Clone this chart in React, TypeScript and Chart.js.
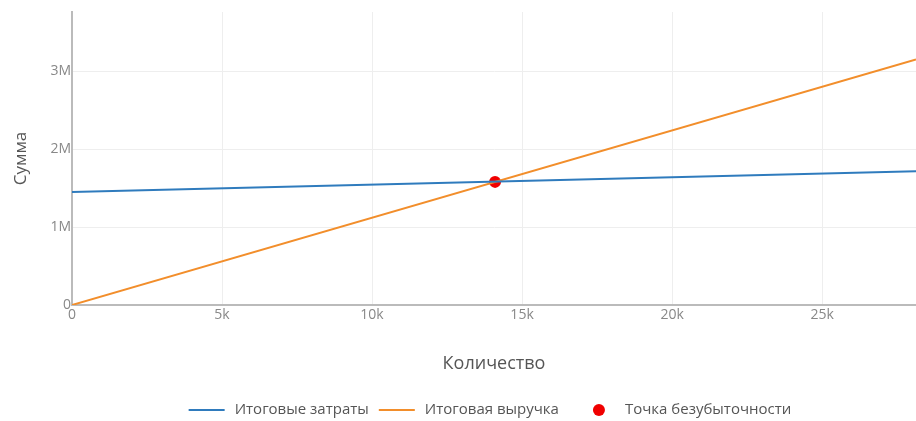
import React, { useEffect, useRef } from "react";
import { Chart, registerables } from "chart.js";
Chart.register(...registerables);

const quantities = [0, 28130];
const totalCosts = [1450000, 1715000];
const totalRevenue = [0, 3150000];
const breakEvenQty = [14100];
const breakEvenSum = [1580000];
const seriesNames = ["Итоговые затраты", "Итоговая выручка", "Точка безубыточности"];
const seriesColors = ["#2f7bbd", "#f28e2b", "#f00000"];
const xAxisTitle = "Количество";
const yAxisTitle = "Сумма";
const xMax = 28130;
const yMax = 3760000;
const xTickValues = [0, 5000, 10000, 15000, 20000, 25000];
const yTickValues = [0, 1000000, 2000000, 3000000];

const fontFamily = '"Open Sans", "Liberation Sans", sans-serif';
const CANVAS_W = 922;

const fmt = (v: number) => {
  if (v === 0) return "0";
  if (Math.abs(v) >= 1e6) return v / 1e6 + "M";
  if (Math.abs(v) >= 1e3) return v / 1e3 + "k";
  return String(v);
};

const legendPlugin = {
  id: "customLegend",
  afterDraw(chart: any) {
    const ctx = chart.ctx;
    ctx.save();
    ctx.font = `15px ${fontFamily}`;
    ctx.textBaseline = "middle";
    const y = 410;
    const lineSymW = 36;
    const pointSymW = 46;
    const gap = 10;
    const itemGap = 10;
    const items = chart.data.datasets.map((ds: any) => {
      const isPoint = !ds.showLine;
      const symW = isPoint ? pointSymW : lineSymW;
      return {
        label: ds.label,
        color: ds.borderColor,
        isPoint,
        symW,
        w: symW + gap + ctx.measureText(ds.label).width,
      };
    });
    const total = items.reduce((a: number, it: any) => a + it.w, 0) + itemGap * (items.length - 1);
    let x = 490 - total / 2;
    for (const it of items) {
      if (it.isPoint) {
        ctx.fillStyle = it.color;
        ctx.beginPath();
        ctx.arc(x + 30, y, 6, 0, Math.PI * 2);
        ctx.fill();
      } else {
        ctx.strokeStyle = it.color;
        ctx.lineWidth = 2;
        ctx.beginPath();
        ctx.moveTo(x, y);
        ctx.lineTo(x + it.symW, y);
        ctx.stroke();
      }
      ctx.fillStyle = "#555";
      ctx.textAlign = "left";
      ctx.fillText(it.label, x + it.symW + gap, y);
      x += it.w + itemGap;
    }
    ctx.restore();
  },
};

export default function App() {
  const ref = useRef<HTMLCanvasElement>(null);
  useEffect(() => {
    if (!ref.current) return;
    const chart = new Chart(ref.current, {
      type: "scatter",
      data: {
        datasets: [
          {
            label: seriesNames[0],
            data: quantities.map((q, i) => ({ x: q, y: totalCosts[i] })),
            showLine: true,
            borderColor: seriesColors[0],
            backgroundColor: seriesColors[0],
            borderWidth: 2,
            pointRadius: 0,
          },
          {
            label: seriesNames[1],
            data: quantities.map((q, i) => ({ x: q, y: totalRevenue[i] })),
            showLine: true,
            borderColor: seriesColors[1],
            backgroundColor: seriesColors[1],
            borderWidth: 2,
            pointRadius: 0,
          },
          {
            label: seriesNames[2],
            data: breakEvenQty.map((q, i) => ({ x: q, y: breakEvenSum[i] })),
            showLine: false,
            borderColor: seriesColors[2],
            backgroundColor: seriesColors[2],
            pointRadius: 6,
            borderWidth: 0,
          },
        ],
      },
      options: {
        animation: false,
        responsive: false,
        layout: { padding: { top: 12, left: 0, right: 0, bottom: 30 } },
        plugins: { legend: { display: false }, tooltip: { enabled: false } },
        scales: {
          x: {
            type: "linear",
            min: 0,
            max: xMax,
            afterBuildTicks: (s: any) => {
              s.ticks = xTickValues.map((v) => ({ value: v }));
            },
            afterFit: (s: any) => {
              s.height = 86;
            },
            ticks: {
              padding: 2,
              color: "#888",
              font: { family: fontFamily, size: 14 },
              callback: (v: any) => fmt(Number(v)),
              maxRotation: 0,
              autoSkip: false,
            },
            grid: { color: "#eeeeee", lineWidth: 1, drawTicks: false },
            border: { display: true, color: "#bbbbbb", width: 2 },
            title: {
              display: true,
              text: xAxisTitle,
              color: "#555",
              font: { family: fontFamily, size: 18 },
              padding: { top: 0, bottom: 16 },
            },
          },
          y: {
            type: "linear",
            min: 0,
            max: yMax,
            afterBuildTicks: (s: any) => {
              s.ticks = yTickValues.map((v) => ({ value: v }));
            },
            afterFit: (s: any) => {
              s.width = 72;
            },
            ticks: {
              padding: 1,
              color: "#888",
              font: { family: fontFamily, size: 14 },
              callback: (v: any) => fmt(Number(v)),
              autoSkip: false,
            },
            grid: { color: "#eeeeee", lineWidth: 1, drawTicks: false },
            border: { display: true, color: "#bbbbbb", width: 2 },
            title: {
              display: true,
              text: yAxisTitle,
              color: "#555",
              font: { family: fontFamily, size: 17 },
              padding: { top: 11, bottom: 0 },
            },
          },
        },
      },
      plugins: [legendPlugin],
    } as any);
    return () => chart.destroy();
  }, []);
  return (
    <div style={{ position: "fixed", left: 0, top: 0, width: 916, height: 421, background: "#fff", overflow: "hidden" }}>
      <canvas ref={ref} width={CANVAS_W} height={421} style={{ width: CANVAS_W, height: 421, display: "block" }} />
    </div>
  );
}
